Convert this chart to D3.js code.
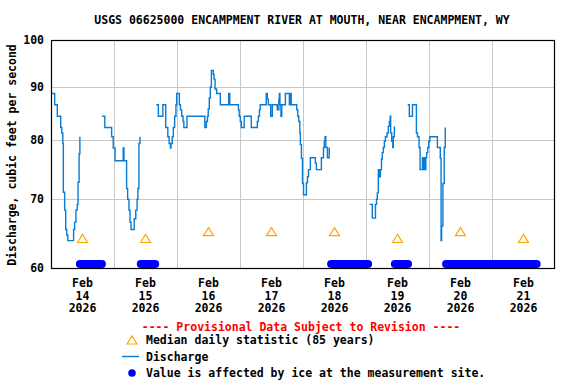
<!DOCTYPE html>
<html>
<head>
<meta charset="utf-8">
<script src="https://cdn.jsdelivr.net/npm/d3@7"></script>
<style>
  body { margin: 0; background: #fff; }
  text { font-family: "DejaVu Sans Mono", monospace; font-weight: bold; font-size: 11.5px; }
</style>
</head>
<body>
<svg id="chart" width="576" height="384"></svg>
<script>
// hours since 2026-02-14 00:00, discharge (cfs); gaps are ice periods
var seg1 = [[0,88.7],[1.4,86.5],[2.4,84.3],[3.7,82.2],[4.1,81.2],[4.5,79.3],[4.7,71.1],[5.2,68.3],[5.6,65.4],[6.0,64.6],[6.4,63.8],
  [8.6,65.4],[9.0,66.5],[9.5,68.3],[10.0,69.2],[10.3,72.7],[10.7,77.5],[11.0,80.5]]
var seg2 = [[19.5,84.3],[20.5,82.2],[23.1,80.5],[23.7,78.5],[24.4,76.3],[27.5,78.5],[27.8,76.3],[28.8,71.7],[29.2,70.0],[29.7,68.3],
  [30.1,66.5],[30.5,65.4],[31.7,67.0],[32.3,68.3],[32.8,70.0],[33.1,71.7],[33.5,79.3],[33.9,80.5]]
var seg3 = [[40.1,86.5],[40.9,84.3],[42.6,86.5],[43.7,82.2],[44.5,80.5],[45.0,79.3],[45.5,78.5],[45.7,79.3],[46.2,80.5],[46.6,82.2],
  [47.1,84.3],[47.6,86.5],[47.9,88.7],[48.9,86.5],[49.3,85.5],[49.8,84.3],[50.3,83.3],[50.6,82.2],[51.8,84.3],[58.6,82.2],
  [59.2,83.3],[59.6,84.3],[59.9,85.7],[60.3,87.8],[60.7,90.0],[61.1,93.4],[61.8,92.6],[62.1,91.6],[62.5,89.6],[63.1,88.7],
  [64.5,86.5],[67.7,88.7],[68.1,86.5],[71.4,85.5],[71.7,84.3],[72.1,83.3],[72.5,82.2],[73.6,84.3],[76.3,82.2],[78.6,83.3],
  [79.0,84.3],[79.4,85.5],[79.7,86.5],[82.0,88.7],[82.4,87.6],[82.8,86.5],[83.7,84.3],[84.3,86.5],[86.2,85.5],[86.8,87.6],
  [87.0,88.7],[87.2,86.5],[87.6,84.3],[87.9,86.5],[89.3,88.7],[90.8,86.5],[91.0,87.6],[91.3,88.7],[91.5,86.5],[93.6,85.5],
  [94.0,84.3],[94.4,83.3],[94.8,81.2],[95.0,79.1],[95.4,76.7],[95.8,72.5],[96.2,70.7],[97.3,72.6],[97.7,73.6],[98.1,74.8],
  [98.8,76.8],[100.7,75.9],[101.1,74.8],[103.0,76.8],[103.8,78.6],[104.1,79.7],[104.4,80.5],[104.7,78.6],[105.3,76.8],[106.0,78.6]]
var seg4 = [[121.3,69.2],[122.4,67.1],[123.6,69.2],[124.0,70.0],[124.3,71.0],[124.7,74.8],[125.0,73.6],[125.5,74.8],[125.9,76.6],
  [126.2,77.7],[126.6,78.6],[127.0,79.7],[127.4,80.5],[128.0,81.2],[128.5,82.4],[128.9,83.3],[129.2,84.3],[129.4,81.2],
  [129.8,79.7],[130.2,78.6],[130.4,80.5],[130.8,82.4]]
var seg5 = [[135.9,86.5],[136.5,84.3],[137.7,86.5],[139.2,81.2],[139.6,80.5],[140.2,78.6],[140.6,74.8],[141.5,76.8],[141.7,74.8],
  [142.1,76.8],[142.4,74.8],[142.8,76.8],[143.1,77.7],[143.5,78.6],[143.9,79.7],[144.3,80.5],[147.2,78.6],[148.3,76.7],
  [148.6,63.8],[148.8,65.9],[149.3,72.5],[149.8,78.6],[150.2,82.2]]
var discharge = [seg1, seg2, seg3, seg4, seg5]

// ice-affected periods, [start hour, end hour]
var icePeriods = [[11.0,19.4],[34.2,39.7],[106.7,120.8],[131.0,136.0],[150.5,161.0 + 24]]
var iceValue = 60.55

var medianDays = [14, 15, 16, 17, 18, 19, 20, 21]
var medianValues = [64.1, 64.1, 65.1, 65.1, 65.1, 64.1, 65.1, 64.1]

var yTicks = [60, 70, 80, 90, 100]
var xDays = [14, 15, 16, 17, 18, 19, 20, 21]

var t0 = Date.UTC(2026, 1, 14)
function hrs(h) { return new Date(t0 + h * 3600000) }

var svg = d3.select('#chart')
var margin = {top: 40, right: 21, bottom: 116, left: 51}
var width = 576, height = 384

var x = d3.scaleUtc()
  .domain([new Date(Date.UTC(2026, 1, 14)), new Date(Date.UTC(2026, 1, 22))])
  .range([margin.left, width - margin.right])
var y = d3.scaleLog()
  .domain([60, 100])
  .range([height - margin.bottom, margin.top])

// grid
var grid = svg.append('g').attr('stroke', '#c8c8c8').attr('stroke-width', 1)
grid.selectAll('line.h').data(yTicks.slice(1, -1)).enter().append('line')
  .attr('x1', margin.left).attr('x2', width - margin.right)
  .attr('y1', d => Math.round(y(d)) + 0.5).attr('y2', d => Math.round(y(d)) + 0.5)
grid.selectAll('line.v').data(xDays.slice(1)).enter().append('line')
  .attr('x1', d => Math.round(x(new Date(Date.UTC(2026, 1, d)))) + 0.5)
  .attr('x2', d => Math.round(x(new Date(Date.UTC(2026, 1, d)))) + 0.5)
  .attr('y1', margin.top).attr('y2', height - margin.bottom)

// ice dots as thick rounded bands
svg.append('g').attr('stroke', '#0000ff').attr('stroke-width', 8).attr('stroke-linecap', 'round')
  .selectAll('line').data(icePeriods).enter().append('line')
  .attr('x1', d => x(hrs(d[0]))).attr('x2', d => x(hrs(d[1])))
  .attr('y1', y(iceValue)).attr('y2', y(iceValue))

// discharge
var line = d3.line()
  .x(d => x(hrs(d[0])))
  .y(d => y(d[1]))
  .curve(d3.curveStepAfter)
svg.append('g').selectAll('path').data(discharge).enter().append('path')
  .attr('d', line)
  .attr('fill', 'none')
  .attr('stroke', '#0a7bd2')
  .attr('stroke-width', 1.4)

// median triangles
function tri(cx, cy) {
  return 'M' + (cx - 5) + ',' + (cy + 4) + 'L' + cx + ',' + (cy - 4) + 'L' + (cx + 5) + ',' + (cy + 4) + 'Z'
}
svg.append('g').selectAll('path').data(medianDays).enter().append('path')
  .attr('d', (d, i) => tri(x(new Date(Date.UTC(2026, 1, d, 12))), y(medianValues[i])))
  .attr('fill', 'none').attr('stroke', '#ffa500').attr('stroke-width', 1.2)

// frame
svg.append('rect')
  .attr('x', margin.left + 0.5).attr('y', margin.top + 0.5)
  .attr('width', width - margin.right - margin.left - 1)
  .attr('height', height - margin.bottom - margin.top)
  .attr('fill', 'none').attr('stroke', '#000').attr('stroke-width', 1.2)

// y tick labels
svg.append('g').selectAll('text').data(yTicks).enter().append('text')
  .attr('x', 44).attr('y', d => y(d) + 4)
  .attr('text-anchor', 'end')
  .text(d => d)

// x tick labels
var xl = svg.append('g').selectAll('text').data(xDays).enter().append('text')
  .attr('text-anchor', 'middle')
  .attr('transform', d => 'translate(' + x(new Date(Date.UTC(2026, 1, d, 12))) + ',0)')
xl.append('tspan').attr('x', 0).attr('y', 287).text('Feb')
xl.append('tspan').attr('x', 0).attr('y', 299.5).text(d => d)
xl.append('tspan').attr('x', 0).attr('y', 312).text('2026')

// title
svg.append('text').attr('x', 302).attr('y', 24).attr('text-anchor', 'middle')
  .text('USGS 06625000 ENCAMPMENT RIVER AT MOUTH, NEAR ENCAMPMENT, WY')

// y label
svg.append('text').attr('transform', 'translate(16,155) rotate(-90)')
  .attr('text-anchor', 'middle')
  .text('Discharge, cubic feet per second')

// legend
svg.append('text').attr('x', 301).attr('y', 331).attr('text-anchor', 'middle')
  .attr('fill', '#ff0000').text('---- Provisional Data Subject to Revision ----')
svg.append('path').attr('d', tri(132, 340)).attr('fill', 'none').attr('stroke', '#ffa500').attr('stroke-width', 1.2)
svg.append('text').attr('x', 146).attr('y', 344).text('Median daily statistic (85 years)')
svg.append('line').attr('x1', 122).attr('x2', 139).attr('y1', 356.5).attr('y2', 356.5)
  .attr('stroke', '#0a7bd2').attr('stroke-width', 1.4)
svg.append('text').attr('x', 146).attr('y', 360.5).text('Discharge')
svg.append('circle').attr('cx', 132).attr('cy', 373).attr('r', 3.8).attr('fill', '#0000ff')
svg.append('text').attr('x', 146).attr('y', 377).text('Value is affected by ice at the measurement site.')
</script>
</body>
</html>
